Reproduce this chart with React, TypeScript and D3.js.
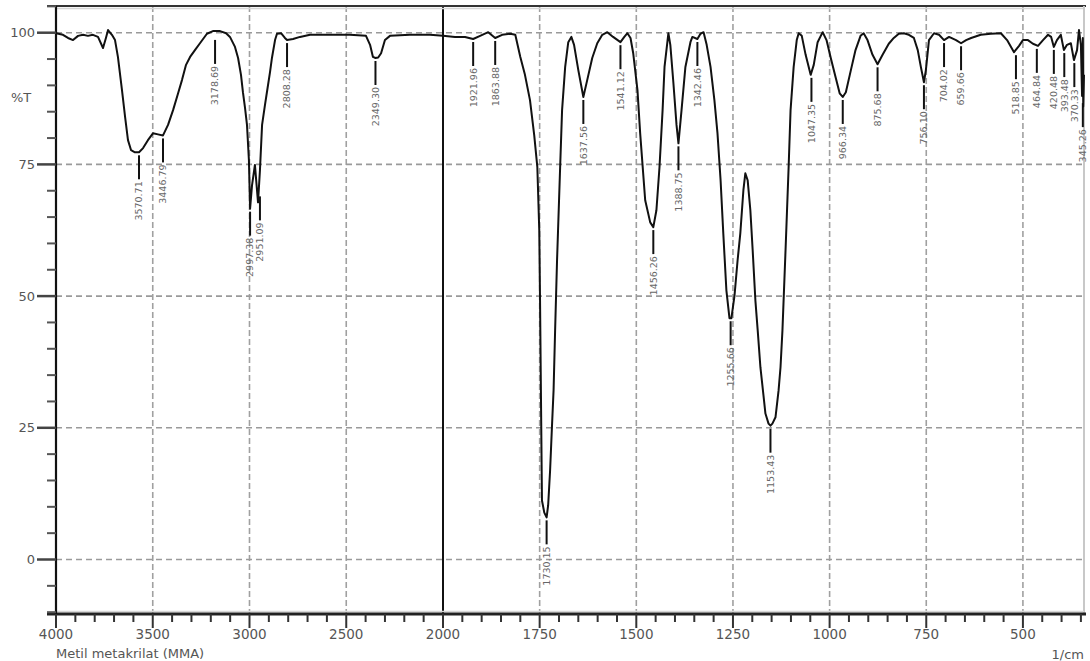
import React from "react";
import * as d3 from "d3";

// ---- Data ----
const wavenumbers = [
  4000, 3964, 3938, 3912, 3886, 3860, 3835, 3809, 3783, 3757, 3742, 3731, 3711, 3695, 3680, 3659, 3643, 3628, 3612, 3592,
  3571, 3550, 3525, 3499, 3473, 3447, 3421, 3395, 3369, 3349, 3328, 3307, 3282, 3256, 3220, 3189, 3152, 3121, 3101, 3075,
  3059, 3044, 3034, 3023, 3013, 3003, 2997, 2987, 2972, 2956, 2946, 2935, 2920, 2910, 2894, 2884, 2868, 2858, 2837, 2817,
  2806, 2775, 2739, 2687, 2584, 2481, 2398, 2377, 2362, 2349, 2335, 2320, 2300, 2274, 2171, 2067, 2000,
  1969, 1943, 1922, 1904, 1883, 1865, 1847, 1826, 1813, 1800, 1788, 1775, 1764, 1756, 1751, 1749, 1744, 1738, 1732,
  1728, 1723, 1718, 1714, 1710, 1705, 1697, 1692, 1684, 1676, 1668, 1661, 1650, 1637, 1627, 1614, 1601, 1588, 1575,
  1560, 1541, 1531, 1523, 1515, 1508, 1497, 1490, 1477, 1464, 1456, 1448, 1440, 1432, 1427, 1417, 1412, 1404, 1396,
  1391, 1383, 1373, 1360, 1355, 1342, 1334, 1326, 1318, 1308, 1298, 1290, 1282, 1275, 1267, 1259, 1254, 1246, 1238,
  1231, 1223, 1218, 1212, 1205, 1199, 1192, 1186, 1179, 1171, 1166, 1158, 1153, 1148, 1140, 1132, 1127, 1122, 1114,
  1106, 1101, 1093, 1085, 1080, 1072, 1062, 1049, 1041, 1031, 1018, 1008, 997, 984, 974, 966, 958, 945, 933, 920,
  912, 902, 889, 876, 863, 847, 834, 821, 808, 795, 782, 772, 764, 756, 751, 743, 730, 717, 704, 691, 673, 660,
  647, 634, 609, 583, 557, 541, 523, 510, 500, 487, 474, 461, 448, 435, 427, 420, 412, 402, 394, 386, 376, 368,
  360, 355, 350, 347, 345, 344, 342,
];
const transmittance = [
  99.9, 99.6, 99.0, 98.6, 99.4, 99.6, 99.4, 99.6, 99.2, 97.1, 99.0, 100.5, 99.6, 98.6, 95.4, 89.1, 84.0, 79.6, 77.7, 77.3,
  77.3, 78.1, 79.6, 80.9, 80.7, 80.5, 82.5, 85.3, 88.5, 91.0, 93.9, 95.4, 96.7, 98.0, 99.8, 100.3, 100.3, 99.9, 99.2, 97.3,
  95.2, 92.0, 88.7, 85.7, 82.5, 75.8, 66.6, 71.0, 74.9, 67.8, 73.9, 82.5, 86.3, 88.7, 92.5, 95.2, 98.6, 99.8, 99.9, 99.0,
  98.6, 98.8, 99.2, 99.6, 99.6, 99.6, 99.4, 97.7, 95.4, 95.2, 95.3, 96.1, 98.6, 99.4, 99.6, 99.6, 99.4,
  99.2, 99.2, 98.8, 99.4, 100.1, 99.0, 99.6, 99.8, 99.6, 95.4, 92.0, 87.2, 80.5, 74.5, 62.5, 49.2, 11.2, 8.9, 8.0,
  10.3, 16.9, 25.5, 32.1, 43.5, 56.8, 74.5, 85.3, 93.5, 98.2, 99.2, 97.7, 92.9, 87.8, 91.0, 95.2, 98.0, 99.6, 100.1,
  99.2, 98.2, 99.2, 99.9, 99.0, 96.1, 89.1, 80.9, 68.2, 64.0, 63.1, 66.3, 74.5, 85.3, 93.5, 99.9, 97.7, 90.4, 82.5,
  79.0, 85.3, 93.5, 98.2, 99.2, 98.8, 99.8, 100.1, 97.7, 93.5, 87.2, 80.9, 72.0, 61.9, 51.1, 45.8, 45.8, 50.1, 56.8,
  61.9, 70.1, 73.3, 72.0, 66.3, 58.7, 49.2, 43.5, 36.5, 31.1, 27.7, 25.8, 25.4, 25.8, 27.0, 32.1, 36.5, 43.5, 58.7,
  74.5, 85.3, 93.5, 98.6, 99.9, 99.4, 95.8, 92.0, 93.9, 98.2, 100.1, 98.6, 95.2, 91.4, 88.5, 87.8, 88.7, 92.9, 96.7, 99.4,
  99.9, 98.6, 95.8, 94.0, 95.8, 97.9, 99.0, 99.8, 99.9, 99.6, 99.0, 96.7, 93.5, 90.6, 92.9, 98.6, 99.9, 99.6, 98.6, 99.2, 98.6, 98.0,
  98.6, 99.0, 99.6, 99.8, 99.9, 98.6, 96.3, 97.5, 98.6, 98.6, 97.9, 97.5, 98.6, 99.6, 99.2, 97.3, 98.6, 99.6, 96.7, 97.7, 98.0, 94.8,
  96.7, 100.5, 97.7, 88.0, 99.0, 86.0, 92.0,
];

const peakWavenumbers = [3571, 3447, 3178, 2997, 2946, 2806, 2349, 1922, 1865, 1732, 1637, 1541, 1456, 1391, 1342, 1256, 1153, 1047, 966, 876, 756, 704, 660, 518, 464, 420, 393, 367, 345];
const peakTransmittance = [77.3, 80.5, 99.2, 66.6, 69.5, 98.6, 95.2, 98.8, 99.0, 8.0, 87.8, 98.2, 63.1, 79.0, 98.8, 45.8, 25.4, 92.0, 87.8, 94.0, 90.6, 98.6, 98.0, 96.3, 97.5, 97.3, 96.7, 94.8, 87.2];
const peakLabels = [
  "3570.71", "3446.79", "3178.69", "2997.38", "2951.09", "2808.28", "2349.30", "1921.96", "1863.88", "1730.15",
  "1637.56", "1541.12", "1456.26", "1388.75", "1342.46", "1255.66", "1153.43", "1047.35", "966.34", "875.68",
  "756.10", "704.02", "659.66", "518.85", "464.84", "420.48", "393.48", "370.33", "345.26",
];

const xTickLabels = [4000, 3500, 3000, 2500, 2000, 1750, 1500, 1250, 1000, 750, 500];
const xGridValues = [3500, 3000, 2500, 1750, 1500, 1250, 1000, 750, 500];
const yTickLabels = [100, 75, 50, 25, 0];

const xAxisTitle = "1/cm";
const yAxisTitle = "%T";
const sampleName = "Metil metakrilat (MMA)";

const FONT = "DejaVu Sans, Verdana, sans-serif";

export default function App() {
  const W = 1090;
  const H = 661;
  const left = 56;
  const right = 1084;
  const top = 6;
  const bottom = 614;

  const x = d3.scaleLinear().domain([4000, 2000, 342]).range([left, 443, right]);
  const y = d3.scaleLinear().domain([100, 0]).range([32.7, 559.5]);
  const yMin = y.invert(bottom);
  const yMax = y.invert(top);

  const pts = wavenumbers.map((w, i) => [w, transmittance[i]] as [number, number]);
  const line = d3
    .line<[number, number]>()
    .x((d) => x(d[0]))
    .y((d) => y(d[1]))
    .curve(d3.curveLinear);

  // minor ticks
  const xMinor: number[] = [];
  for (let v = 4000; v >= 2000; v -= 100) xMinor.push(v);
  for (let v = 1950; v >= 350; v -= 50) xMinor.push(v);
  const yMinor: number[] = [];
  for (let v = -10; v <= 105; v += 5) yMinor.push(v);

  return (
    <svg
      width={W}
      height={H}
      style={{ position: "absolute", left: 0, top: 0, background: "#fff" }}
    >
      <rect x={0} y={0} width={W} height={H} fill="#fff" />
      {/* grid */}
      {xGridValues.map((v) => (
        <line
          key={"gx" + v}
          x1={x(v)}
          x2={x(v)}
          y1={top}
          y2={bottom}
          stroke="#a0a0a0"
          strokeWidth={1.6}
          strokeDasharray="6,3"
        />
      ))}
      {yTickLabels.map((v) => (
        <line
          key={"gy" + v}
          x1={left}
          x2={right}
          y1={y(v)}
          y2={y(v)}
          stroke="#9a9a9a"
          strokeWidth={1.6}
          strokeDasharray="6,4"
        />
      ))}
      {/* split line at 2000 */}
      <line x1={x(2000)} x2={x(2000)} y1={top} y2={bottom + 13} stroke="#111" strokeWidth={2} />

      {/* frame */}
      <line x1={47} x2={right + 2} y1={top} y2={top} stroke="#333" strokeWidth={2.2} />
      <line x1={left} x2={right} y1={top + 2.5} y2={top + 2.5} stroke="#d6d6d6" strokeWidth={1.5} />
      <line x1={right} x2={right} y1={top} y2={bottom} stroke="#c8c8c8" strokeWidth={2} />
      <line x1={left} x2={right} y1={bottom - 2.5} y2={bottom - 2.5} stroke="#d6d6d6" strokeWidth={1.5} />
      <line x1={47} x2={right + 2} y1={bottom} y2={bottom} stroke="#222" strokeWidth={3} />
      <line x1={left} x2={left} y1={top} y2={bottom} stroke="#111" strokeWidth={2.2} />

      {/* y ticks */}
      {yMinor
        .filter((v) => v >= yMin && v <= yMax)
        .map((v) => (
          <line
            key={"yt" + v}
            x1={v % 25 === 0 ? 37 : 47}
            x2={left}
            y1={y(v)}
            y2={y(v)}
            stroke={v % 25 === 0 ? "#444" : "#555"}
            strokeWidth={v % 25 === 0 ? 2.5 : 2}
          />
        ))}
      {yTickLabels.map((v) => (
        <text
          key={"yl" + v}
          x={35}
          y={y(v)}
          dy="0.36em"
          textAnchor="end"
          fontFamily={FONT}
          fontSize={13}
          fill="#555"
        >
          {v}
        </text>
      ))}
      <text x={11} y={102} fontFamily={FONT} fontSize={13} fill="#555">
        {yAxisTitle}
      </text>

      {/* x ticks */}
      {xMinor.map((v) => {
        const major = xTickLabels.includes(v);
        return (
          <line
            key={"xt" + v}
            x1={x(v)}
            x2={x(v)}
            y1={bottom}
            y2={bottom + (major ? 14 : 8)}
            stroke="#333"
            strokeWidth={2}
          />
        );
      })}
      {xTickLabels.map((v) => (
        <text
          key={"xl" + v}
          x={x(v)}
          y={639}
          textAnchor="middle"
          fontFamily={FONT}
          fontSize={13.5}
          fill="#555"
        >
          {v}
        </text>
      ))}
      <text x={left} y={658} fontFamily={FONT} fontSize={13} fill="#555">
        {sampleName}
      </text>
      <text x={right} y={659} textAnchor="end" fontFamily={FONT} fontSize={13} fill="#555">
        {xAxisTitle}
      </text>

      {/* spectrum */}
      <path d={line(pts) || ""} fill="none" stroke="#111" strokeWidth={2} strokeLinejoin="round" />

      {/* peak labels */}
      {peakWavenumbers.map((w, i) => {
        const px = x(w);
        const py = y(peakTransmittance[i]);
        const ts = py + 29;
        return (
          <g key={"pk" + i}>
            <line x1={px} x2={px} y1={py + 3} y2={py + 27} stroke="#111" strokeWidth={2} />
            <text
              x={px}
              y={ts}
              transform={`rotate(-90, ${px}, ${ts})`}
              textAnchor="end"
              dy="0.36em"
              fontFamily={FONT}
              fontSize={9.5}
              fill="#666"
            >
              {peakLabels[i]}
            </text>
          </g>
        );
      })}
    </svg>
  );
}
